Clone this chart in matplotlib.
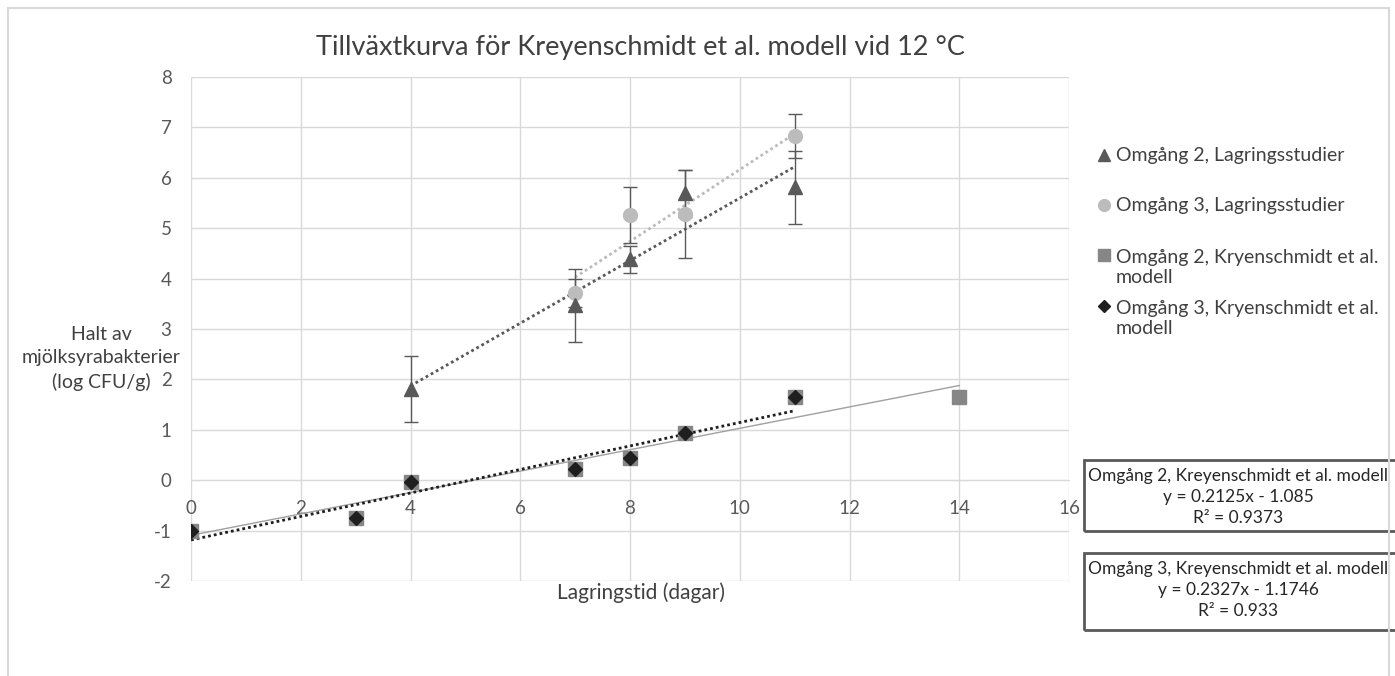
import numpy as np
import matplotlib
matplotlib.use("Agg")
import matplotlib.pyplot as plt
from matplotlib.lines import Line2D
from matplotlib.patches import Rectangle

plt.rcParams['font.family'] = ['Lato', 'DejaVu Sans']
plt.rcParams['axes.unicode_minus'] = False

# --- Data ---
# Omgång 2, Lagringsstudier (triangles, with error bars)
lag2_x = [4, 7, 8, 9, 11]
lag2_y = [1.81, 3.47, 4.38, 5.69, 5.81]
lag2_err = [0.65, 0.73, 0.26, 0.46, 0.72]

# Omgång 3, Lagringsstudier (circles, with error bars)
lag3_x = [7, 8, 9, 11]
lag3_y = [3.72, 5.26, 5.28, 6.83]
lag3_err = [0.28, 0.55, 0.88, 0.43]

# Omgång 2, Kreyenschmidt et al. modell (squares)
mod2_x = [0, 3, 4, 7, 8, 9, 11, 14]
mod2_y = [-1.0, -0.75, -0.03, 0.23, 0.45, 0.94, 1.65, 1.65]

# Omgång 3, Kreyenschmidt et al. modell (diamonds)
mod3_x = [0, 3, 4, 7, 8, 9, 11]
mod3_y = [-1.0, -0.75, -0.03, 0.23, 0.45, 0.94, 1.65]

ylabel_lines = ["Halt av", "mjölksyrabakterier", "(log CFU/g)"]
legend_labels = ["Omgång 2, Lagringsstudier",
                 "Omgång 3, Lagringsstudier",
                 "Omgång 2, Kryenschmidt et al.\nmodell",
                 "Omgång 3, Kryenschmidt et al.\nmodell"]
box_texts = ["Omgång 2, Kreyenschmidt et al. modell\ny = 0.2125x - 1.085\nR² = 0.9373",
             "Omgång 3, Kreyenschmidt et al. modell\ny = 0.2327x - 1.1746\nR² = 0.933"]

C_TRI = '#595959'
C_CIR = '#bcbcbc'
C_SQ = '#868686'
C_DIA = '#1f1f1f'
TXT = '#404040'

W, H = 1395, 676
fig = plt.figure(figsize=(W / 100, H / 100), dpi=100)


def fx(px):
    return px / W


def fy(py):
    return 1 - py / H


ax = fig.add_axes([fx(191), fy(581), fx(1069) - fx(191), fy(77) - fy(581)])


def trend(xs, ys, x0, x1):
    k, m = np.polyfit(xs, ys, 1)
    xx = np.array([x0, x1])
    return xx, k * xx + m


dot = (0, (1, 1.1))

# trendlines
tx, ty = trend(mod2_x, mod2_y, 0, 14)
ax.plot(tx, ty, color='#a0a0a0', lw=1.0, zorder=3)
tx, ty = trend(mod3_x, mod3_y, 0, 11)
ax.plot(tx, ty, color=C_DIA, lw=2.0, ls=dot, zorder=3)
tx, ty = trend(lag2_x, lag2_y, 4, 11)
ax.plot(tx, ty, color=C_TRI, lw=2.0, ls=dot, zorder=3)
tx, ty = trend(lag3_x, lag3_y, 7, 11)
ax.plot(tx, ty, color=C_CIR, lw=2.0, ls=dot, zorder=3)

# error bars
ax.errorbar(lag2_x, lag2_y, yerr=lag2_err, fmt='none', ecolor=C_TRI,
            elinewidth=1.0, capsize=5, capthick=1.0, zorder=4)
ax.errorbar(lag3_x, lag3_y, yerr=lag3_err, fmt='none', ecolor=C_TRI,
            elinewidth=1.0, capsize=5, capthick=1.0, zorder=4)

# markers
ax.plot(mod2_x, mod2_y, ls='none', marker='s', ms=9.5, color=C_SQ, zorder=5)
ax.plot(mod3_x, mod3_y, ls='none', marker='D', ms=7, color=C_DIA, zorder=6)
ax.plot(lag3_x, lag3_y, ls='none', marker='o', ms=10, color=C_CIR, zorder=6)
ax.plot(lag2_x, lag2_y, ls='none', marker='^', ms=10, color=C_TRI, zorder=7)

# axes styling
ax.set_xlim(0, 16)
ax.set_ylim(-2, 8)
ax.set_xticks(np.arange(0, 17, 2))
ax.set_yticks(np.arange(-2, 9, 1))
ax.grid(True, color='#d9d9d9', lw=1.0)
ax.set_axisbelow(True)
for s in ['top', 'right', 'left']:
    ax.spines[s].set_visible(False)
ax.spines['bottom'].set_position(('data', 0))
ax.spines['bottom'].set_color('#d9d9d9')
ax.tick_params(axis='both', length=0, labelsize=13.5, labelcolor='#595959')
ax.tick_params(axis='x', pad=14)
ax.tick_params(axis='y', pad=14)

# texts
fig.text(fx(640), fy(48), "Tillväxtkurva för Kreyenschmidt et al. modell vid 12 °C",
         ha='center', va='center', fontsize=19.5, color=TXT)
for line, ly in zip(ylabel_lines, [335, 358, 382]):
    fig.text(fx(101), fy(ly), line, ha='center', va='center', fontsize=14,
             color=TXT)
fig.text(fx(641), fy(593), "Lagringstid (dagar)", ha='center', va='center',
         fontsize=15, color=TXT)

# legend (manual)
leg_y = [155, 205, 267.5, 318.5]
leg_marker_y = [155, 205, 255, 306]
leg_styles = [('^', C_TRI, 8.5), ('o', C_CIR, 8.5), ('s', C_SQ, 8), ('D', C_DIA, 6.5)]
for lab, ly, my, (mk, col, ms) in zip(legend_labels, leg_y, leg_marker_y, leg_styles):
    fig.add_artist(Line2D([fx(1104)], [fy(my)], marker=mk, color=col, ms=ms,
                          ls='none', transform=fig.transFigure))
    fig.text(fx(1116), fy(ly), lab, ha='left', va='center', fontsize=14,
             color=TXT, linespacing=1.25)

# equation boxes
for (top, bot, cy), txt in zip([(460, 531, 497), (553, 630, 590)], box_texts):
    fig.add_artist(Rectangle((fx(1084), fy(bot)), fx(1420) - fx(1084), fy(top) - fy(bot),
                             transform=fig.transFigure, fill=False,
                             edgecolor='#595959', lw=2.0))
    fig.text(fx(1238), fy(cy), txt, ha='center', va='center', fontsize=12.5,
             color='#262626', linespacing=1.4, multialignment='center')

# outer chart border
fig.add_artist(Rectangle((fx(7.5), fy(700)), fx(1389) - fx(7.5), fy(8.5) - fy(700),
                         transform=fig.transFigure, fill=False,
                         edgecolor='#d9d9d9', lw=1.5))

fig.savefig("out.png", dpi=100)
